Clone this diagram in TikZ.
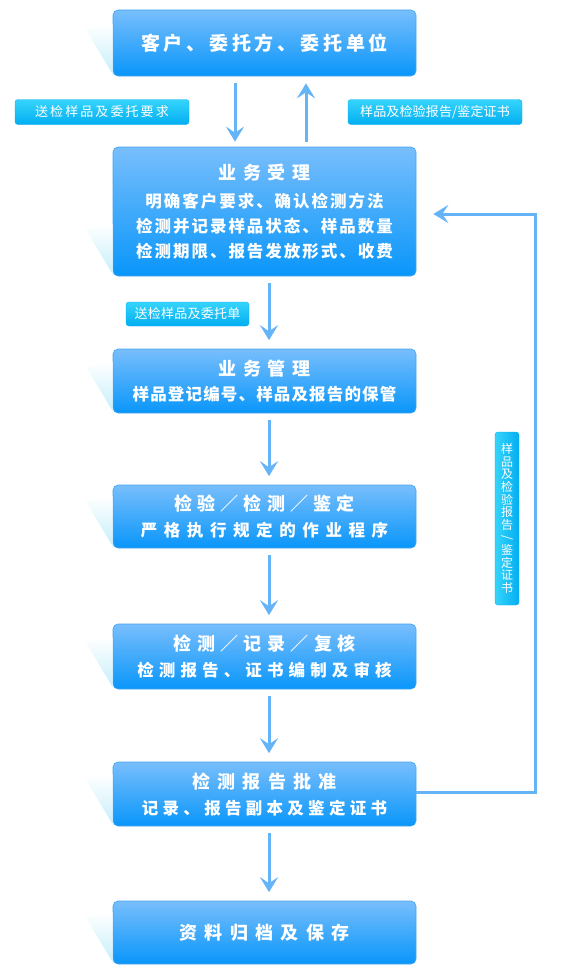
\documentclass[tikz,border=0pt]{standalone}
\usepackage{fontspec}
\setmainfont{Noto Sans CJK SC}
\usetikzlibrary{arrows.meta, positioning, calc}

\definecolor{boxtop}{HTML}{78BEFC}
\definecolor{boxbot}{HTML}{0996FA}
\definecolor{boxline}{HTML}{45A4F0}
\definecolor{flowblue}{HTML}{66B4F8}
\definecolor{tagtop}{HTML}{35D4FB}
\definecolor{tagbot}{HTML}{03AEF1}
\definecolor{glow}{HTML}{C6EEFB}

% spaced text: size, letter space, text
\newcommand{\spaced}[3]{{\fontsize{#1}{#1}\selectfont\addfontfeatures{LetterSpace=#2}#3}}

\tikzset{
	stagebox/.style={draw=boxline, line width=0.6pt, rounded corners=5pt,
		top color=boxtop, bottom color=boxbot, minimum width=303pt,
		text=white, align=center, inner sep=0pt,
		font=\bfseries\fontsize{16.5}{25}\selectfont},
	tagbox/.style={draw=tagbot, line width=0.4pt, rounded corners=3pt,
		top color=tagtop, bottom color=tagbot, text=white, inner sep=0pt,
		minimum height=25pt},
	flow/.style={draw=flowblue, line width=3pt,
		-{Stealth[length=15pt,width=18pt,inset=6pt]}},
}

\begin{document}
\begin{tikzpicture}[x=1pt, y=-1pt]
		\useasboundingbox (0,0) rectangle (568,974);
		
		% Stage boxes
		\node[stagebox, minimum height=66pt] (client) at (264.5,43)
		{\spaced{19}{20}{客户、委托方、委托单位}};
		\node[stagebox, minimum height=129pt] (accept) at (264.5,211.5)
		{\spaced{18}{38}{业务受理}\\[3pt]
			\spaced{16.5}{12}{明确客户要求、确认检测方法}\\
			\spaced{16.5}{12}{检测并记录样品状态、样品数量}\\
			\spaced{16.5}{12}{检测期限、报告发放形式、收费}};
		\node[stagebox, minimum height=64pt] (manage) at (264.5,381)
		{\spaced{18}{36}{业务管理}\\
			\spaced{16.5}{7}{样品登记编号、样品及报告的保管}};
		\node[stagebox, minimum height=63pt] (inspect) at (264.5,516.5)
		{\spaced{18}{28}{检验／检测／鉴定}\\[1pt]
			\spaced{16.5}{40}{严格执行规定的作业程序}};
		\node[stagebox, minimum height=65pt] (review) at (264.5,656.5)
		{\spaced{18}{30}{检测／记录／复核}\\[1pt]
			\spaced{16.5}{31}{检测报告、证书编制及审核}};
		\node[stagebox, minimum height=64pt] (approve) at (264.5,794)
		{\spaced{18}{41}{检测报告批准}\\[1pt]
			\spaced{16.5}{26}{记录、报告副本及鉴定证书}};
		\node[stagebox, minimum height=63pt] (archive) at (264.5,932.5)
		{\spaced{18}{41}{资料归档及保存}};
		
		% Glow at the lower left of each box
		\foreach \b in {client, accept, manage, inspect, review, approve, archive}
		\shade[top color=white, bottom color=glow]
		($(\b.south west)+(0,-52)$) -- ($(\b.south west)+(-27,-47)$)
		-- ($(\b.south west)+(0,-2)$) -- cycle;
		
		% Tags
		\node[tagbox, minimum width=174pt] (sendtag) at (102,112)
		{\spaced{13}{16}{送检样品及委托要求}};
		\node[tagbox, minimum width=174pt] (backtag) at (435,112)
		{\spaced{13}{1}{样品及检验报告/鉴定证书}};
		\node[tagbox, minimum width=123pt, minimum height=24pt] (ordertag) at (187.5,314)
		{\spaced{13}{2}{送检样品及委托单}};
		\node[tagbox, left color=tagtop, right color=tagbot, minimum width=24pt,
		minimum height=173pt, align=center, font=\fontsize{12}{12.6}\selectfont]
		(sidetag) at (507,518.5)
		{样\\品\\及\\检\\验\\报\\告\\\rotatebox[origin=c]{-90}{/}\\鉴\\定\\证\\书};
		
		% Flow arrows
		\draw[flow, shorten <=7pt, shorten >=5pt]
		([xshift=-29.5pt]client.south) -- ([xshift=-29.5pt]accept.north);
		\draw[flow, shorten <=5pt, shorten >=7pt]
		([xshift=41.5pt]accept.north) -- ([xshift=41.5pt]client.south);
		\foreach \a/\b in {accept/manage, manage/inspect, inspect/review,
			review/approve, approve/archive}
		\draw[flow, shorten <=7pt, shorten >=8.5pt]
		([xshift=4.5pt]\a.south) -- ([xshift=4.5pt]\b.north);
		
		% Feedback loop
		\coordinate (loopx) at (535,0);
		\draw[flow, shorten >=17pt]
		([yshift=2pt]approve.east) -- ([yshift=2pt]approve.east -| loopx)
		|- ([yshift=-2.5pt]accept.east);
	\end{tikzpicture}
\end{document}
